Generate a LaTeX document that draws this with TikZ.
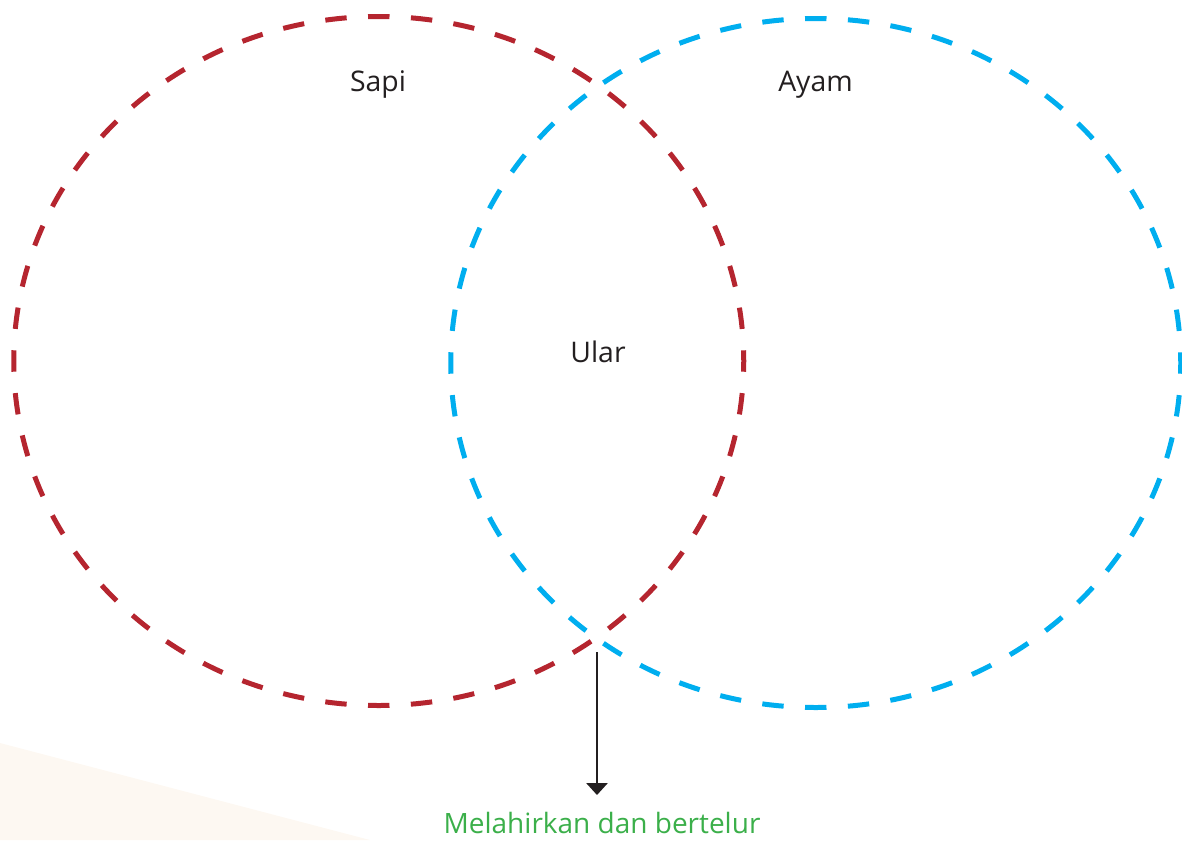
\documentclass[tikz,border=0pt]{standalone}
\usepackage{fontspec}
\setmainfont{Open Sans}
\newfontfamily\labfont{Open Sans}
\usetikzlibrary{arrows.meta}
\definecolor{sapired}{HTML}{B5252F}
\definecolor{ayamblue}{HTML}{00AEEF}
\definecolor{labgreen}{HTML}{3BAF4A}
\definecolor{labdark}{HTML}{231F20}
\definecolor{beige}{HTML}{FDF8F2}
\tikzset{
  setline/.style={line width=3.75pt, dash pattern=on 16.08pt off 16.08pt, dash phase=8.04pt, line cap=butt},
  setlabel/.style={anchor=base, inner sep=0pt, text=labdark, font=\labfont\fontsize{21.3}{24}\selectfont},
  notelabel/.style={anchor=base, inner sep=0pt, text=labgreen, font=\labfont\fontsize{21}{24}\selectfont},
  pointer/.style={draw=labdark, line width=1.5pt, -{Triangle[width=16pt,length=9pt]}}
}
\begin{document}
\begin{tikzpicture}[x=0.75pt,y=-0.75pt]
\useasboundingbox (0,0) rectangle (1182,840);
\fill[beige] (0,743) -- (370,840) -- (0,840) -- cycle;
\draw[setline, draw=sapired] (378.75,361) ellipse [x radius=365, y radius=344.5];
\draw[setline, draw=ayamblue] (815.75,363) ellipse [x radius=365, y radius=344.5];
\node[setlabel] (sapi) at (378,91) {Sapi};
\node[setlabel] (ayam) at (815.5,91) {Ayam};
\node[setlabel] (ular) at (598,362) {Ular};
\node[notelabel] (note) at (602,833) {Melahirkan dan bertelur};
\coordinate (meet) at (597,652);
\coordinate (tip) at (597,795);
\draw[pointer] (meet) -- (tip);
\end{tikzpicture}
\end{document}
